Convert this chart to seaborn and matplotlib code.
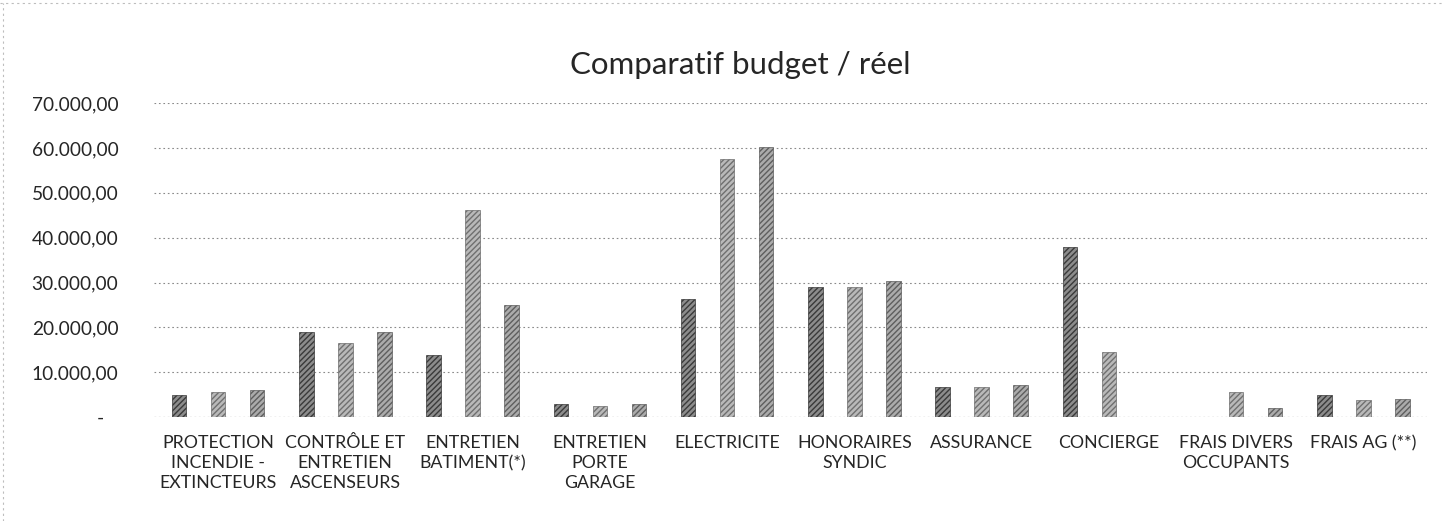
import matplotlib
matplotlib.use("Agg")
import matplotlib.pyplot as plt
import seaborn as sns
import pandas as pd
from matplotlib.lines import Line2D
from matplotlib.ticker import FuncFormatter

categories = [
    "PROTECTION\nINCENDIE -\nEXTINCTEURS",
    "CONTRÔLE ET\nENTRETIEN\nASCENSEURS",
    "ENTRETIEN\nBATIMENT(*)",
    "ENTRETIEN\nPORTE\nGARAGE",
    "ELECTRICITE",
    "HONORAIRES\nSYNDIC",
    "ASSURANCE",
    "CONCIERGE",
    "FRAIS DIVERS\nOCCUPANTS",
    "FRAIS AG (**)",
]
series_names = ["Réel N-1", "Budget N", "Réel N"]
serie_1 = [4900, 19000, 13800, 2900, 26400, 28900, 6700, 38000, 0, 4900]
serie_2 = [5500, 16400, 46200, 2400, 57500, 28900, 6700, 14400, 5600, 3800]
serie_3 = [6000, 18900, 24900, 2900, 60200, 30400, 7100, 0, 2000, 4000]
y_ticks = [0, 10000, 20000, 30000, 40000, 50000, 60000, 70000]

rows = []
for name, vals in zip(series_names, [serie_1, serie_2, serie_3]):
    for c, v in zip(categories, vals):
        rows.append({"Poste": c, "Montant": v, "Série": name})
df = pd.DataFrame(rows)

sns.set_theme(style="white")
plt.rcParams["font.family"] = ["Lato", "DejaVu Sans"]

fig = plt.figure(figsize=(14.43, 5.21), dpi=100)
ax = fig.add_axes([0.107, 0.1996, 0.882, 0.6024])

palette = ["#8c8c8c", "#b9b9b9", "#ababab"]
sns.barplot(data=df, x="Poste", y="Montant", hue="Série", order=categories,
            hue_order=series_names, palette=palette, width=0.92, gap=0.63,
            legend=False, ax=ax, saturation=1)

edge_cols = ["#3a3a3a", "#6f6f6f", "#5e5e5e"]
n = len(categories)
for i, p in enumerate(ax.patches[:3 * n]):
    s = i // n
    p.set_hatch("//////")
    p.set_edgecolor(edge_cols[s])
    p.set_linewidth(0.5)

ax.set_xlim(-0.5, n - 0.5)
ax.set_ylim(0, 70000)
ax.set_yticks(y_ticks)

def fmt(v, pos):
    if v == 0:
        return "-   "
    s = f"{v:,.2f}"
    return s.replace(",", "X").replace(".", ",").replace("X", ".")

ax.yaxis.set_major_formatter(FuncFormatter(fmt))
ax.yaxis.grid(True, linestyle=(0, (1.5, 2.5)), color="#8a8a8a", linewidth=0.8)
ax.xaxis.grid(False)
ax.set_axisbelow(True)
for sp in ax.spines.values():
    sp.set_visible(False)
ax.axhline(0, color="#8a8a8a", linestyle=(0, (1.5, 2.5)), linewidth=0.8, zorder=0)

ax.tick_params(axis="y", length=0, pad=26, labelsize=13.8, labelcolor="#262626")
ax.tick_params(axis="x", length=0, pad=13, labelsize=12.8, labelcolor="#262626")
for lab in ax.get_xticklabels():
    lab.set_linespacing(1.32)
    lab.set_verticalalignment("top")
ax.set_xlabel("")
ax.set_ylabel("")

fig.text(0.513, 0.876, "Comparatif budget / réel", ha="center", va="center",
         fontsize=22.5, color="#262626")

fig.add_artist(Line2D([0.0, 1.0], [0.995, 0.995], transform=fig.transFigure,
                      color="#bdbdbd", linestyle=(0, (2, 3)), linewidth=0.8))
fig.add_artist(Line2D([0.002, 0.002], [0.0, 0.995], transform=fig.transFigure,
                      color="#bdbdbd", linestyle=(0, (2, 3)), linewidth=0.8))

fig.savefig("out.png", dpi=100, facecolor="white")
